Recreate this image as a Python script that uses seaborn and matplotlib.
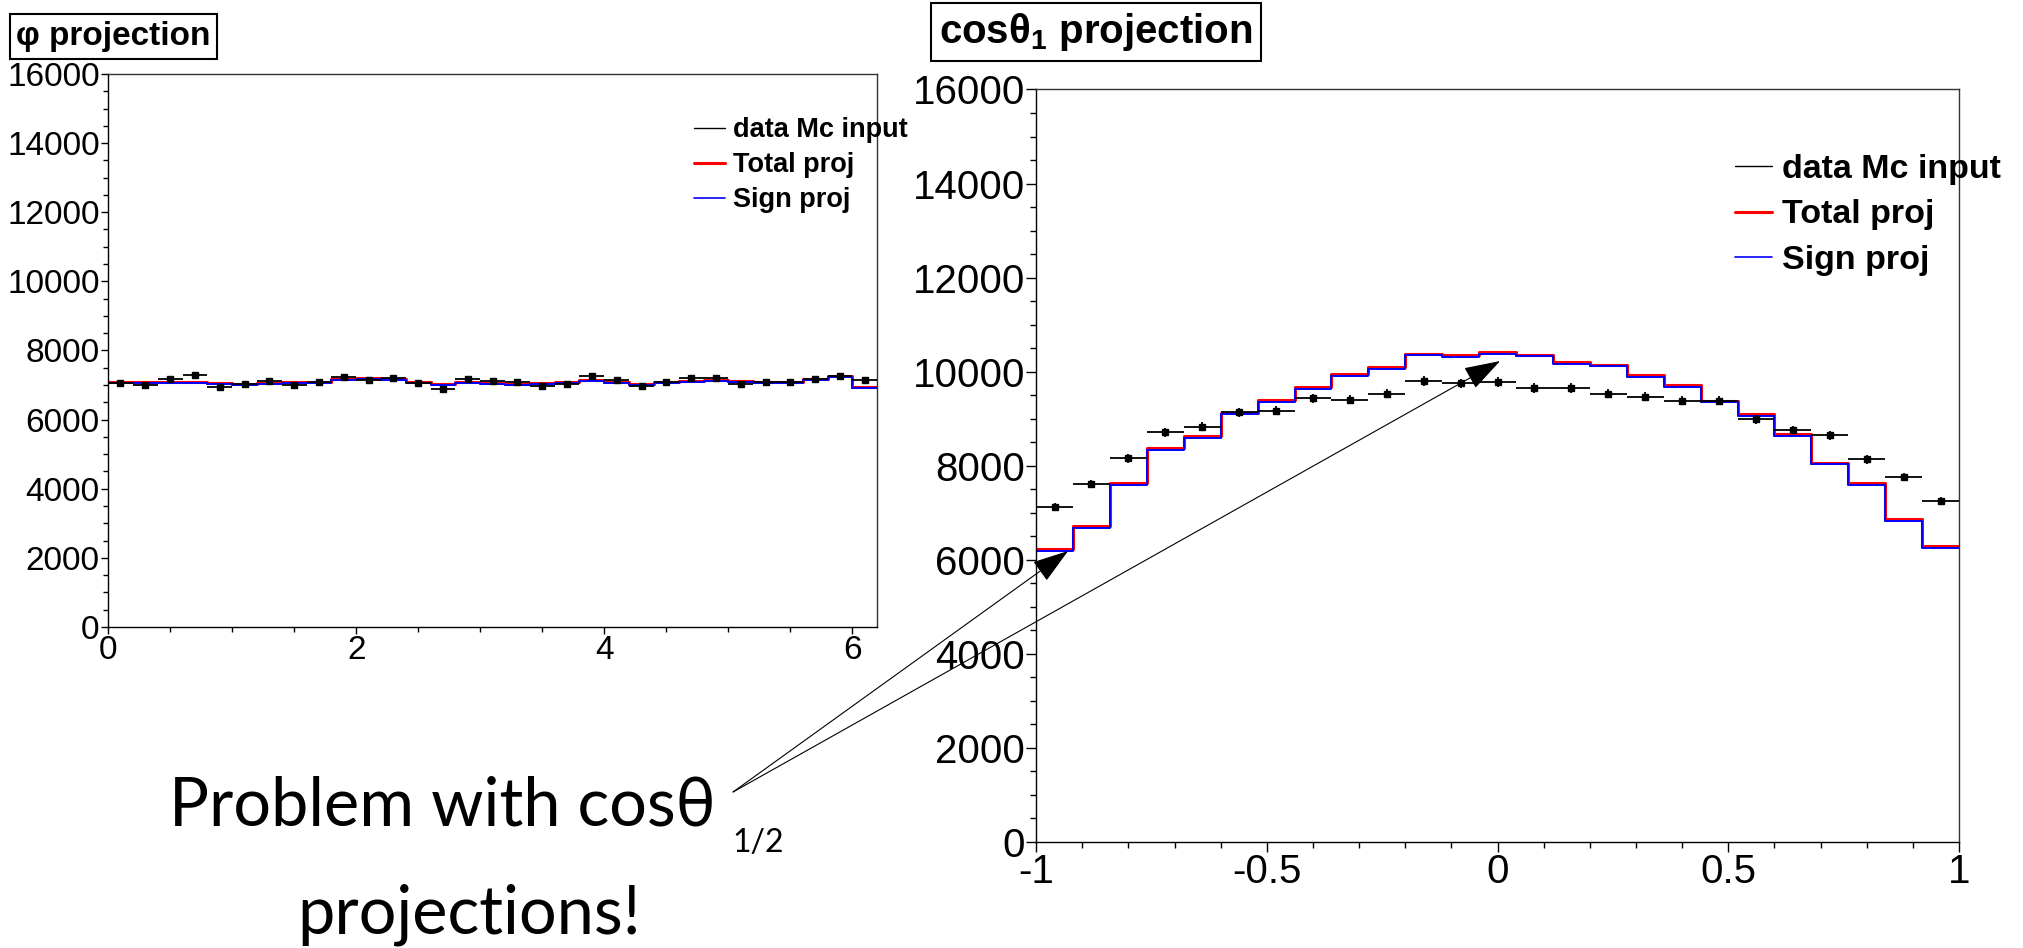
import numpy as np
import pandas as pd
import matplotlib
matplotlib.use("Agg")
import matplotlib.pyplot as plt
import seaborn as sns
from matplotlib.lines import Line2D
from matplotlib.ticker import MultipleLocator

# phi projection, 31 bins from 0 to 6.2
phi_data = [7068, 6992, 7166, 7282, 6934, 7030, 7126, 7011, 7097, 7242, 7136,
            7204, 7059, 6876, 7184, 7108, 7079, 6972, 7021, 7252, 7136, 6972,
            7097, 7204, 7204, 7030, 7079, 7097, 7166, 7252, 7146]
phi_total = [7088, 7088, 7088, 7088, 7059, 7030, 7059, 7088, 7088, 7166, 7204,
             7185, 7088, 7030, 7088, 7069, 7040, 7059, 7088, 7156, 7097, 7021,
             7088, 7117, 7156, 7117, 7079, 7079, 7175, 7271, 6953]
phi_sign = [7055, 7055, 7058, 7052, 7025, 6998, 7026, 7050, 7056, 7133, 7170,
            7150, 7052, 6998, 7050, 7035, 7008, 7024, 7052, 7122, 7066, 6990,
            7055, 7082, 7120, 7085, 7046, 7048, 7140, 7240, 6925]

# cos(theta1) projection, 25 bins from -1 to 1
cos_data = [7122, 7611, 8157, 8710, 8830, 9135, 9170, 9439, 9404, 9531, 9801,
            9751, 9780, 9652, 9652, 9531, 9467, 9382, 9382, 8986, 8759, 8646,
            8136, 7767, 7243]
cos_total = [6229, 6711, 7625, 8369, 8638, 9128, 9397, 9673, 9950, 10099, 10381,
             10353, 10417, 10360, 10198, 10148, 9921, 9716, 9382, 9092, 8667,
             8064, 7632, 6867, 6285]
cos_sign = [6192, 6675, 7590, 8332, 8600, 9092, 9360, 9636, 9912, 10062, 10345,
            10318, 10380, 10324, 10162, 10112, 9885, 9680, 9346, 9056, 8630,
            8028, 7596, 6830, 6248]

legend_labels = ["data Mc input", "Total proj", "Sign proj"]

sns.set_style("ticks")
plt.rcParams["font.family"] = ["Liberation Sans", "DejaVu Sans"]
plt.rcParams["mathtext.fontset"] = "custom"
plt.rcParams["mathtext.rm"] = "Liberation Sans:bold"
plt.rcParams["mathtext.it"] = "Liberation Sans:bold"
for key in ["text.color", "axes.labelcolor", "xtick.color", "ytick.color"]:
    plt.rcParams[key] = "black"

fig = plt.figure(figsize=(20.24, 9.48), dpi=100)
ax1 = fig.add_axes([0.0534, 0.3386, 0.380, 0.5834])
ax2 = fig.add_axes([0.5119, 0.1118, 0.456, 0.7938])


def draw_panel(ax, edges, data, total, sign):
    centers = (edges[:-1] + edges[1:]) / 2
    half = (edges[1] - edges[0]) / 2
    df = pd.DataFrame({"x": centers, "total": total, "sign": sign})
    bins = [float(e) for e in edges]
    sns.histplot(data=df, x="x", weights="total", bins=bins, element="step",
                 fill=False, color="red", linewidth=2.2, ax=ax)
    sns.histplot(data=df, x="x", weights="sign", bins=bins, element="step",
                 fill=False, color="blue", linewidth=1.4, ax=ax)
    ax.errorbar(centers, data, xerr=half, yerr=np.sqrt(data), fmt="s",
                color="black", ms=4.5, elinewidth=1.3, capsize=0, zorder=5)
    ax.set_xlim(edges[0], edges[-1])
    ax.set_ylim(0, 16000)
    ax.set_xlabel("")
    ax.set_ylabel("")
    ax.yaxis.set_major_locator(MultipleLocator(2000))
    ax.yaxis.set_minor_locator(MultipleLocator(500))
    for s in ax.spines.values():
        s.set_visible(True)
        s.set_linewidth(1.0)
        s.set_color("#333333")
    ax.spines["left"].set_color("black")
    ax.spines["bottom"].set_color("black")


phi_edges = np.linspace(0, 6.2, len(phi_data) + 1)
cos_edges = np.linspace(-1, 1, len(cos_data) + 1)

draw_panel(ax1, phi_edges, phi_data, phi_total, phi_sign)
ax1.xaxis.set_major_locator(MultipleLocator(2))
ax1.xaxis.set_minor_locator(MultipleLocator(0.5))
ax1.tick_params(which="major", direction="out", length=5, width=1, labelsize=24, pad=1)
ax1.tick_params(which="minor", direction="out", length=3.3, width=1)

draw_panel(ax2, cos_edges, cos_data, cos_total, cos_sign)
ax2.xaxis.set_minor_locator(MultipleLocator(0.1))
ax2.set_xticks([-1, -0.5, 0, 0.5, 1])
ax2.set_xticklabels(["-1", "-0.5", "0", "0.5", "1"])
ax2.tick_params(which="major", direction="out", length=7, width=1, labelsize=29, pad=1)
ax2.tick_params(which="minor", direction="out", length=4, width=1)

handles = [Line2D([], [], color="black", lw=1.0),
           Line2D([], [], color="red", lw=2.2),
           Line2D([], [], color="blue", lw=1.2)]
ax1.legend(handles, legend_labels, loc="upper left", bbox_to_anchor=(0.762, 0.922),
           frameon=False, prop={"weight": "bold", "size": 19.5}, handlelength=1.15,
           handletextpad=0.3, labelspacing=0.34, borderaxespad=0, borderpad=0)
ax2.legend(handles, legend_labels, loc="upper left", bbox_to_anchor=(0.757, 0.914),
           frameon=False, prop={"weight": "bold", "size": 24.5}, handlelength=1.1,
           handletextpad=0.3, labelspacing=0.42, borderaxespad=0, borderpad=0)

# panel titles
box = dict(boxstyle="square,pad=0.2", fc="white", ec="black", lw=1.5)
fig.text(0.008, 0.978, "\u03c6 projection", fontsize=24, weight="bold",
         va="top", ha="left", bbox=box)
fig.text(0.464, 0.988, r"cos$\mathrm{\theta}_{1}$ projection", fontsize=29, weight="bold",
         va="top", ha="left", bbox=box)

# annotation
note_font = ["Lato", "DejaVu Sans"]
fig.text(0.0835, 0.1297, "Problem with cos\u03b8", fontsize=48, family=note_font,
         va="baseline", ha="left")
fig.text(0.362, 0.1013, "1/2", fontsize=23, family=note_font, va="baseline", ha="left")
fig.text(0.232, 0.0158, "projections!", fontsize=48, family=note_font,
         va="baseline", ha="center")

start = (0.3622, 0.1646)
for tip in [(-0.9307, 6187), (0.0054, 10226)]:
    ax2.annotate("", xy=tip, xycoords="data", xytext=start, textcoords="figure fraction",
                 arrowprops=dict(arrowstyle="-|>,head_length=2.3,head_width=0.75",
                                 color="black", lw=0.8, shrinkA=0, shrinkB=0),
                 annotation_clip=False, zorder=10)

fig.savefig("out.png", dpi=100)
